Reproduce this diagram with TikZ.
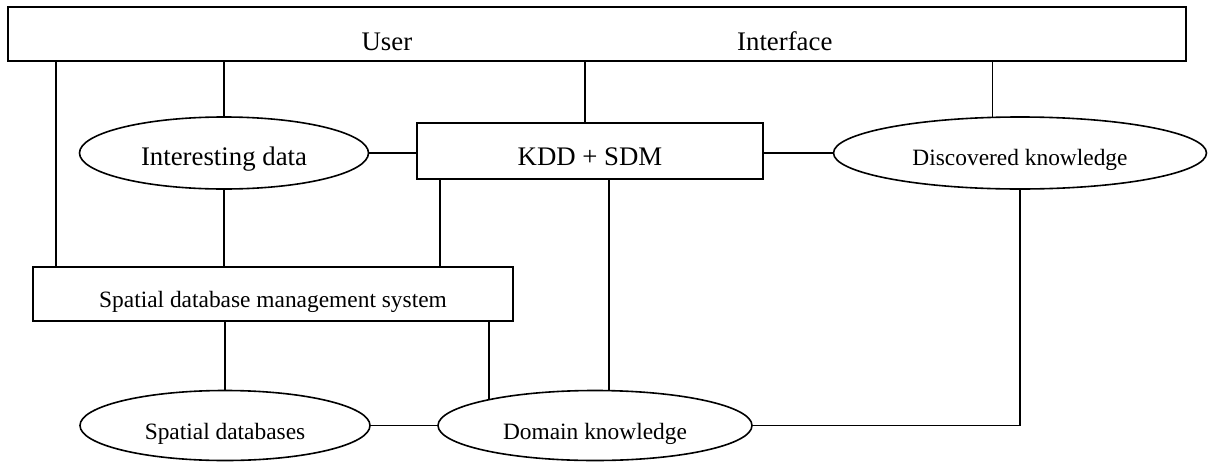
\documentclass[tikz,border=0pt]{standalone}
\usepackage{fontspec}
\setmainfont{Liberation Serif}
\usepackage{tikz}
\usetikzlibrary{shapes.geometric}
\newcommand{\bigtxt}{\fontsize{13.4}{16}\selectfont}
\newcommand{\smalltxt}{\fontsize{11.7}{14}\selectfont}

\begin{document}
\begin{tikzpicture}[x=0.5pt,y=-0.5pt,line width=0.8pt,
  box/.style={draw,rectangle,inner sep=0pt,text height=14pt,text depth=0pt},
  blob/.style={draw,ellipse,inner sep=0pt,text height=13pt,text depth=0pt}]
  \useasboundingbox (0,0) rectangle (1210,461);
  \node[box,minimum width=589pt,minimum height=27pt,text height=16pt,font=\bigtxt] (ui) at (597,34) {User\hspace{162.5pt}Interface};
  \node[blob,minimum width=144.5pt,minimum height=36pt,text height=12pt,font=\bigtxt] (data) at (224,153) {Interesting data};
  \node[box,minimum width=173pt,minimum height=28pt,font=\bigtxt] (kdd) at (590,151) {KDD + SDM};
  \node[blob,minimum width=186.5pt,minimum height=36pt,text height=12pt,font=\smalltxt] (disc) at (1020,153) {Discovered knowledge};
  \node[box,minimum width=240pt,minimum height=27pt,text height=13pt,font=\smalltxt] (sdbms) at (273,294) {Spatial database management system};
  \node[blob,minimum width=145pt,minimum height=35pt,text height=13.5pt,font=\smalltxt] (sdb) at (225,425.5) {Spatial databases};
  \node[blob,minimum width=157pt,minimum height=35pt,text height=13.5pt,font=\smalltxt] (dom) at (595,425.5) {Domain knowledge};
  % links to the interface
  \draw ([xshift=12pt]sdbms.north west) -- ([xshift=12pt]sdbms.north west |- ui.south);
  \draw (data.north) -- (data.north |- ui.south);
  \draw ([xshift=-2.5pt]kdd.north) -- ([xshift=-2.5pt]kdd.north |- ui.south);
  \draw (disc.127) -- (disc.127 |- ui.south);
  % middle row
  \draw (data.east) -- (data.east -| kdd.west);
  \draw (disc.west) -- (disc.west -| kdd.east);
  \draw (data.south) -- (data.south |- sdbms.north);
  \draw ([xshift=12pt]kdd.south west) -- ([xshift=12pt]kdd.south west |- sdbms.north);
  \draw ([xshift=9.5pt]kdd.south) -- ([xshift=9.5pt]kdd.south |- dom.north);
  % bottom row
  \draw (sdb.north) -- (sdb.north |- sdbms.south);
  \draw (dom.166) -- (dom.166 |- sdbms.south);
  \draw (sdb.east) -- (dom.west);
  \draw (dom.east) -| (disc.south);
\end{tikzpicture}
\end{document}
